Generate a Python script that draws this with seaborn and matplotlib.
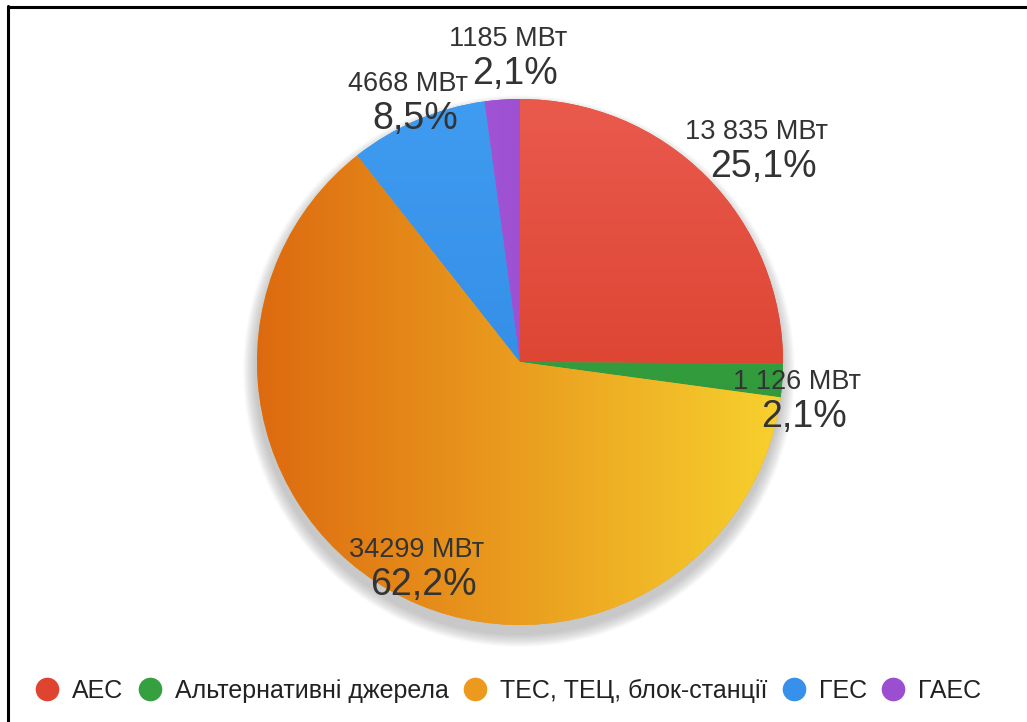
import numpy as np
import matplotlib
matplotlib.use("Agg")
import matplotlib.pyplot as plt
from matplotlib.colors import LinearSegmentedColormap
from matplotlib.lines import Line2D
import seaborn as sns

# Installed capacity by generation type
categories = ["АЕС", "Альтернативні джерела", "ТЕС, ТЕЦ, блок-станції", "ГЕС", "ГАЕС"]
capacity_mw = [13835, 1126, 34299, 4668, 1185]
value_labels = ["13 835 МВт", "1 126 МВт", "34299 МВт", "4668 МВт", "1185 МВт"]
share_labels = ["25,1%", "2,1%", "62,2%", "8,5%", "2,1%"]

# Base colours and gradient end points for each slice
base_colors = ["#df4431", "#34a040", "#ec9a1e", "#3790ea", "#9b4fd0"]
grad_from = ["#e95a4d", "#3caf4b", "#dd6a10", "#3f9cf0", "#b262e2"]
grad_to = ["#d3321a", "#2a8a30", "#f7d12e", "#2b82de", "#8a3fc2"]
grad_dir = ["v", "v", "h", "v", "h"]

sns.set_theme(style="white")
plt.rcParams["font.family"] = ["Liberation Sans", "DejaVu Sans"]
palette = sns.color_palette(base_colors)

W, H = 1027, 722
fig = plt.figure(figsize=(W / 100, H / 100), dpi=100)
ax = fig.add_axes([0, 0, 1, 1])
ax.set_aspect("equal")

cx, cy, R = 520, H - 362, 263

# soft drop shadow under the pie
for k in range(16, 0, -1):
    ax.add_patch(plt.Circle((cx - 1, cy - 9), R + k * 0.8, color="#666666",
                            alpha=0.024, lw=0, zorder=0))

wedges, _ = ax.pie(capacity_mw, colors=palette, startangle=90, counterclock=False,
                   radius=R, center=(cx, cy), frame=True,
                   wedgeprops=dict(linewidth=0, zorder=2))
ax.set_xlim(0, W)
ax.set_ylim(0, H)
ax.axis("off")

# gradient fill clipped to each wedge
n = 256
ramp = np.linspace(0, 1, n)
for w, c0, c1, d in zip(wedges, grad_from, grad_to, grad_dir):
    cmap = LinearSegmentedColormap.from_list("g", [c0, c1])
    if d == "h":
        arr = np.tile(ramp, (n, 1))
    else:
        arr = np.tile(ramp[:, None], (1, n))
    im = ax.imshow(arr, cmap=cmap, extent=(cx - R, cx + R, cy - R, cy + R),
                   origin="upper", aspect="auto", zorder=3, interpolation="bilinear")
    im.set_clip_path(w)

# value and share labels around the slices
label_place = [(1.217, -3.3), (1.075, -3.6), (0.871, 3.8), (1.072, -0.3), (1.16, -2.2)]
for w, vl, sl, (f, dth) in zip(wedges, value_labels, share_labels, label_place):
    mid = np.deg2rad((w.theta1 + w.theta2) / 2 + dth)
    x = cx + R * f * np.cos(mid)
    y = cy + R * f * np.sin(mid)
    ax.text(x - 3, y + 18, vl, ha="center", va="center", fontsize=19.5,
            color="#333333", zorder=5)
    ax.text(x + 4, y - 17, sl, ha="center", va="center", fontsize=27,
            color="#333333", zorder=5)

# legend with round markers
handles = [Line2D([0], [0], marker="o", linestyle="none", markersize=17,
                  markerfacecolor=c, markeredgewidth=0) for c in palette]
fig.legend(handles, categories, loc="center", bbox_to_anchor=(508 / W, 1 - 691 / H),
           ncol=5, frameon=False, fontsize=18, handlelength=1.0, handletextpad=0.5,
           columnspacing=0.55, labelcolor="#222222")

# frame lines along the top and left edges
fig.add_artist(Line2D([8 / W, 8 / W], [0, 1 - 6 / H], color="black", lw=2.2))
fig.add_artist(Line2D([8 / W, 1], [1 - 7 / H, 1 - 7 / H], color="black", lw=2.2))

fig.savefig("out.png", dpi=100)
